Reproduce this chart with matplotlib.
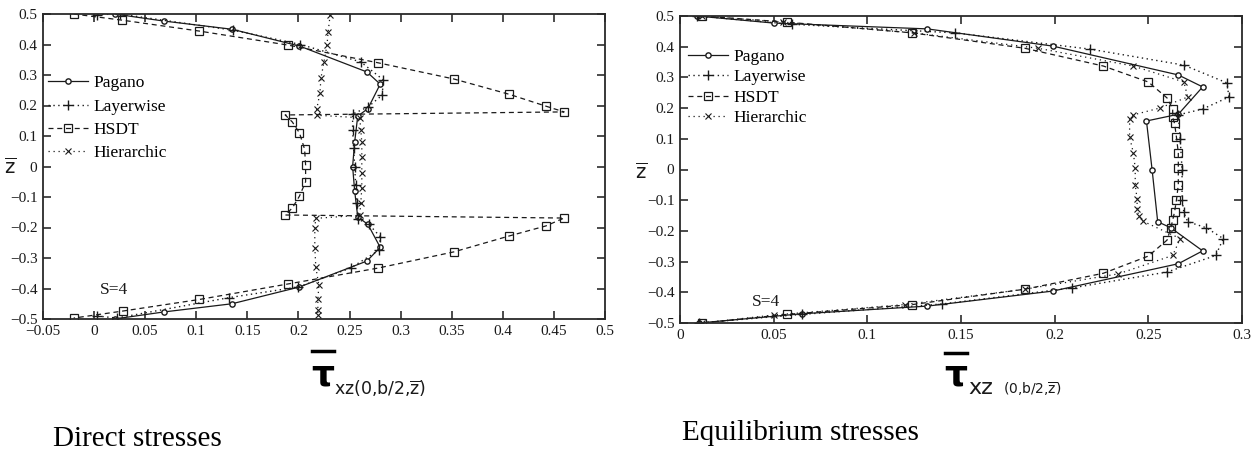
import numpy as np
import matplotlib.pyplot as plt
from matplotlib.lines import Line2D

plt.rcParams['font.family'] = ['Liberation Serif', 'DejaVu Serif']
plt.rcParams['mathtext.fontset'] = 'dejavusans'

# ---- Direct stresses (left) ----
pag_z_d = [0.5, 0.477, 0.45, 0.395, 0.31, 0.27, 0.19, 0.165, 0.08, 0.0, -0.08, -0.165, -0.19, -0.265, -0.31, -0.395, -0.45, -0.477, -0.5]
pag_x_d = [0.02, 0.068, 0.135, 0.201, 0.267, 0.280, 0.268, 0.258, 0.255, 0.253, 0.255, 0.258, 0.268, 0.280, 0.267, 0.201, 0.135, 0.068, 0.02]

lay_z_d = [0.498, 0.5, 0.447, 0.40, 0.343, 0.284, 0.234, 0.195, 0.172, 0.12, 0.06, 0.0, -0.06, -0.12, -0.172, -0.19, -0.23, -0.274, -0.333, -0.395, -0.43, -0.497, -0.49]
lay_x_d = [0.003, 0.025, 0.136, 0.202, 0.261, 0.283, 0.282, 0.268, 0.253, 0.253, 0.254, 0.255, 0.256, 0.257, 0.258, 0.269, 0.280, 0.279, 0.251, 0.200, 0.132, 0.022, 0.003]

hsdt_z_d = [0.5, 0.48, 0.444, 0.398, 0.34, 0.287, 0.237, 0.198, 0.179, 0.169, 0.146, 0.11, 0.057, 0.005, -0.05, -0.097, -0.136, -0.159,
            -0.169, -0.195, -0.228, -0.28, -0.333, -0.385, -0.436, -0.474, -0.497]
hsdt_x_d = [-0.02, 0.027, 0.103, 0.19, 0.278, 0.352, 0.406, 0.442, 0.46, 0.187, 0.194, 0.201, 0.206, 0.207, 0.207, 0.201, 0.194, 0.187,
            0.46, 0.442, 0.406, 0.352, 0.278, 0.19, 0.103, 0.028, -0.02]

hier_z_d = [0.497, 0.44, 0.40, 0.343, 0.29, 0.24, 0.19, 0.168, 0.16, 0.12, 0.08, 0.03, -0.02, -0.07, -0.12, -0.16,
            -0.17, -0.2, -0.267, -0.33, -0.39, -0.436, -0.47, -0.487]
hier_x_d = [0.231, 0.229, 0.228, 0.225, 0.222, 0.221, 0.218, 0.218, 0.26, 0.261, 0.262, 0.262, 0.262, 0.262, 0.261, 0.26,
            0.217, 0.216, 0.216, 0.217, 0.22, 0.219, 0.219, 0.219]

# ---- Equilibrium stresses (right) ----
pag_z_e = [0.5, 0.477, 0.458, 0.402, 0.308, 0.269, 0.18, 0.158, 0.0, -0.17, -0.19, -0.265, -0.307, -0.396, -0.445, -0.47, -0.5]
pag_x_e = [0.009, 0.05, 0.132, 0.199, 0.266, 0.279, 0.266, 0.249, 0.252, 0.255, 0.262, 0.279, 0.266, 0.199, 0.132, 0.065, 0.01]

lay_z_e = [0.5, 0.473, 0.445, 0.392, 0.34, 0.282, 0.236, 0.197, 0.178, 0.1, 0.0, -0.1, -0.14, -0.17, -0.19, -0.225, -0.28, -0.334, -0.386, -0.438, -0.472, -0.5]
lay_x_e = [0.009, 0.06, 0.147, 0.219, 0.269, 0.292, 0.293, 0.279, 0.266, 0.267, 0.268, 0.268, 0.269, 0.271, 0.281, 0.29, 0.286, 0.26, 0.209, 0.14, 0.065, 0.01]

hsdt_z_e = [0.5, 0.48, 0.445, 0.395, 0.337, 0.285, 0.233, 0.197, 0.17, 0.15, 0.106, 0.054, 0.005, -0.05, -0.1, -0.138, -0.165,
            -0.19, -0.23, -0.282, -0.338, -0.39, -0.44, -0.472, -0.5]
hsdt_x_e = [0.012, 0.057, 0.124, 0.184, 0.226, 0.25, 0.26, 0.263, 0.263, 0.264, 0.265, 0.266, 0.266, 0.266, 0.265, 0.264, 0.263,
            0.262, 0.26, 0.25, 0.226, 0.184, 0.124, 0.057, 0.012]

hier_z_e = [0.5, 0.48, 0.445, 0.395, 0.337, 0.285, 0.236, 0.2, 0.178, 0.165, 0.106, 0.054, 0.005, -0.05, -0.096, -0.13, -0.152,
            -0.168, -0.225, -0.28, -0.34, -0.39, -0.44, -0.474, -0.5]
hier_x_e = [0.012, 0.055, 0.125, 0.191, 0.242, 0.269, 0.271, 0.256, 0.242, 0.24, 0.24, 0.242, 0.243, 0.243, 0.244, 0.244, 0.245,
            0.247, 0.267, 0.263, 0.234, 0.184, 0.12, 0.05, 0.012]

labels = ['Pagano', 'Layerwise', 'HSDT', 'Hierarchic']
xticks_d = [-0.05, 0, 0.05, 0.1, 0.15, 0.2, 0.25, 0.3, 0.35, 0.4, 0.45, 0.5]
xticks_e = [0, 0.05, 0.1, 0.15, 0.2, 0.25, 0.3]
yticks = [-0.5, -0.4, -0.3, -0.2, -0.1, 0, 0.1, 0.2, 0.3, 0.4, 0.5]

W, H = 1253, 453
fig = plt.figure(figsize=(W / 100, H / 100), dpi=100)

def fx(px):
    return px / W

def fy(py):
    return 1 - py / H

ax1 = fig.add_axes([fx(43), fy(319), fx(605 - 43), (319 - 14) / H])
ax2 = fig.add_axes([fx(680), fy(323), fx(1242 - 680), (323 - 16) / H])

col = '#1a1a1a'
styles = [
    dict(ls='-', marker='o', ms=3.8, mfc='white', lw=0.9),
    dict(ls=(0, (1, 2.5)), marker='+', ms=7, mew=1.0, lw=1.0),
    dict(ls=(0, (4, 3)), marker='s', ms=5.8, mfc='none', mew=0.9, lw=0.9),
    dict(ls=(0, (1, 3)), marker='x', ms=4.5, mew=0.8, lw=0.9),
]

def draw(ax, series, xlim, xticks, leg_anchor, leg_spacing):
    for (x, z), st, lab in zip(series, styles, labels):
        ax.plot(x, z, color=col, label=lab, **st)
    ax.set_xlim(xlim)
    ax.set_ylim(-0.5, 0.5)
    ax.set_xticks(xticks)
    ax.set_yticks(yticks)
    ax.set_xticklabels([('%g' % t).replace('-', '\u2212') for t in xticks])
    ax.set_yticklabels([('%g' % t).replace('-', '\u2212') for t in yticks])
    ax.tick_params(direction='in', top=True, right=True, length=6, width=1.1,
                   labelsize=11, pad=4, colors=col)
    for s in ax.spines.values():
        s.set_linewidth(1.3)
        s.set_color('#2a2a2a')
    ax.legend(loc='upper left', bbox_to_anchor=leg_anchor, frameon=False,
              borderpad=0, borderaxespad=0, handlelength=2.3, handletextpad=0.3,
              labelspacing=leg_spacing, fontsize=12.5)

draw(ax1, [(pag_x_d, pag_z_d), (lay_x_d, lay_z_d), (hsdt_x_d, hsdt_z_d), (hier_x_d, hier_z_d)],
     (-0.05, 0.5), xticks_d, (0.009, 0.80), 0.42)
draw(ax2, [(pag_x_e, pag_z_e), (lay_x_e, lay_z_e), (hsdt_x_e, hsdt_z_e), (hier_x_e, hier_z_e)],
     (0, 0.3), xticks_e, (0.014, 0.893), 0.25)

# S=4 annotations
fig.text(fx(100), fy(290), 'S=4', fontsize=12.5, va='center', ha='left', color=col)
fig.text(fx(752), fy(302), 'S=4', fontsize=12.5, va='center', ha='left', color=col)

# y labels (z with overbar)
fig.text(fx(10), fy(167), r'$\overline{\mathrm{z}}$', fontsize=14, va='center', ha='center', color=col)
fig.text(fx(641), fy(172), r'$\overline{\mathrm{z}}$', fontsize=14, va='center', ha='center', color=col)

# x labels: tau with overbar and subscript
for tx, bar_y in [(323, 351), (956, 353)]:
    fig.text(fx(tx), fy(376), r'$\mathbf{\tau}$', fontsize=26, va='center', ha='center',
             color='black', family='DejaVu Sans', fontweight='bold')
    fig.add_artist(Line2D([fx(tx - 11), fx(tx + 11)], [fy(bar_y), fy(bar_y)],
                          color='black', lw=2.5, transform=fig.transFigure))
fig.text(fx(334), fy(389), r'xz(0,b/2,$\overline{\mathrm{z}}$)', fontsize=12.5,
         va='center', ha='left', family='DejaVu Sans', color=col)
fig.text(fx(968), fy(388), 'xz', fontsize=16, va='center', ha='left',
         family='DejaVu Sans', color=col)
fig.text(fx(1003), fy(389), r'(0,b/2,$\overline{\mathrm{z}}$)', fontsize=10,
         va='center', ha='left', family='DejaVu Sans', color=col)

# panel captions
fig.text(fx(53), fy(446), 'Direct stresses', fontsize=21, va='baseline', ha='left', color='black')
fig.text(fx(682), fy(440), 'Equilibrium stresses', fontsize=21, va='baseline', ha='left', color='black')

fig.savefig('out.png', dpi=100)
